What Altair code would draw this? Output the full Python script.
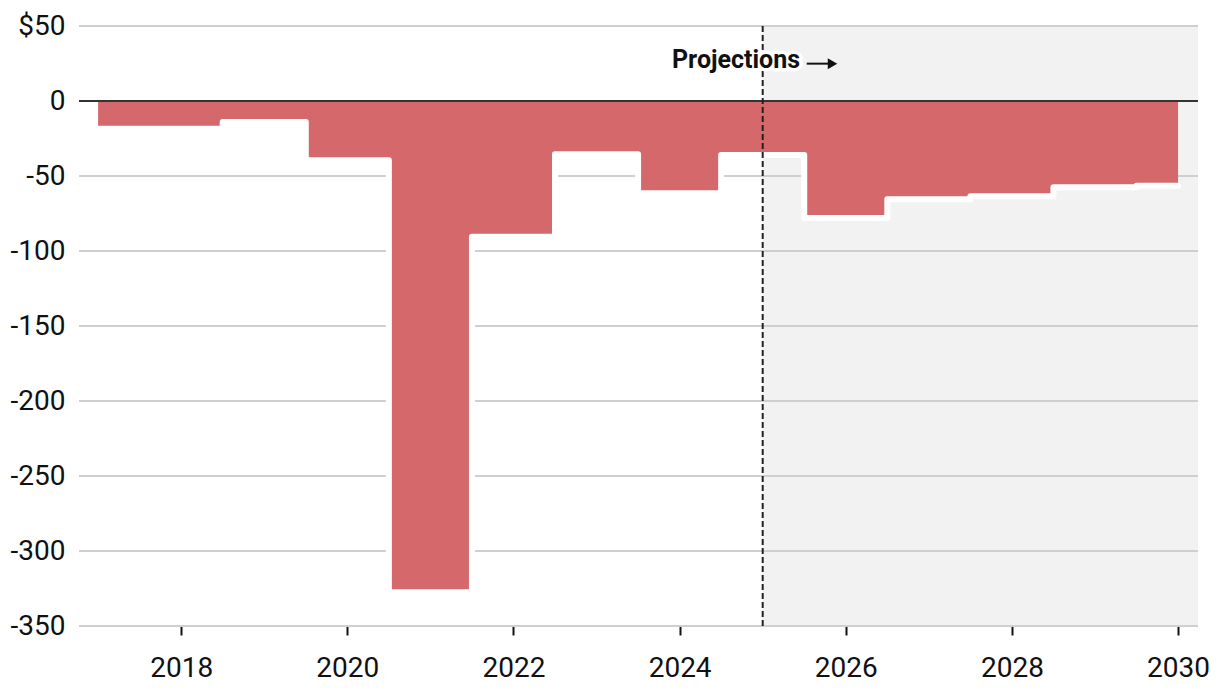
import altair as alt
import pandas as pd

# ---- data ----
years = [2017, 2018, 2019, 2020, 2021, 2022, 2023, 2024, 2025, 2026, 2027, 2028, 2029, 2030]
values = [-18.5, -18.5, -14, -39.5, -327.5, -90.5, -35.5, -61.5, -36, -78, -65.5, -63.5, -57.5, -56.5]

y_ticks = [50, 0, -50, -100, -150, -200, -250, -300, -350]
x_ticks = [2018, 2020, 2022, 2024, 2026, 2028, 2030]

x_domain = [2016.77, 2030.24]
y_domain = [-350, 50]

proj_start = 2025
proj_label = "Projections"
label_x, label_y = 2025.45, 21.8
arrow_x0, arrow_x1, arrow_head_x, arrow_y = 2025.53, 2025.80, 2025.84, 24.9

W, H = 1119, 600
RED = "#d4686a"
FONT = "Roboto"

xscale = alt.Scale(domain=x_domain, nice=False, zero=False)
yscale = alt.Scale(domain=y_domain, nice=False, zero=False)

xaxis = alt.Axis(values=x_ticks, format="d", grid=False, domain=False,
                 tickColor="#111", tickWidth=2, tickSize=9, labelPadding=19,
                 labelFont=FONT, labelFontSize=28, labelColor="#111", title=None)
yaxis = alt.Axis(values=y_ticks, grid=False, domain=False, ticks=False,
                 labelPadding=14, labelFont=FONT, labelFontSize=28, labelColor="#111",
                 labelExpr="datum.value == 50 ? '$50' : '' + datum.value", title=None)


def X(field):
    return alt.X(field, type="quantitative", scale=xscale, axis=xaxis, title=None)


def Y(field):
    return alt.Y(field, type="quantitative", scale=yscale, axis=yaxis, title=None)


df = pd.DataFrame({"year": years, "value": values, "zero": [0] * len(years)})

shade_df = pd.DataFrame({"x": [proj_start], "x2": [x_domain[1]], "y": [y_domain[1]], "y2": [y_domain[0]]})
shade = alt.Chart(shade_df).mark_rect(color="#f2f2f2").encode(
    x=X("x"), x2="x2", y=Y("y"), y2="y2")

grid_df = pd.DataFrame({"y": [v for v in y_ticks if v != 0]})
grid = alt.Chart(grid_df).mark_rule(color="#cfcfcf", strokeWidth=2).encode(
    y=Y("y"), x=alt.value(0), x2=alt.value(W))

area = alt.Chart(df).mark_area(interpolate="step", color=RED, opacity=1).encode(
    x=X("year"), y=Y("value"), y2="zero")

halo_line = alt.Chart(df).mark_line(interpolate="step", color="white", strokeWidth=6,
                                    strokeJoin="round", strokeCap="round").encode(
    x=X("year"), y=Y("value"))

zero_df = pd.DataFrame({"y": [0]})
zero_line = alt.Chart(zero_df).mark_rule(color="#333333", strokeWidth=2).encode(
    y=Y("y"), x=alt.value(0), x2=alt.value(W))

dash_df = pd.DataFrame({"x": [proj_start]})
dash = alt.Chart(dash_df).mark_rule(color="#222222", strokeWidth=2, strokeDash=[6, 3]).encode(
    x=X("x"), y=alt.value(0), y2=alt.value(H))

lab_df = pd.DataFrame({"x": [label_x], "y": [label_y], "t": [proj_label]})
lab_halo = alt.Chart(lab_df).mark_text(font=FONT, fontSize=25, fontWeight="bold", align="right",
                                       baseline="alphabetic", stroke="white", strokeWidth=7,
                                       strokeJoin="round", color="white").encode(
    x=X("x"), y=Y("y"), text="t")
lab = alt.Chart(lab_df).mark_text(font=FONT, fontSize=25, fontWeight="bold", align="right",
                                  baseline="alphabetic", color="#111").encode(
    x=X("x"), y=Y("y"), text="t")

arrow_df = pd.DataFrame({"x": [arrow_x0], "x2": [arrow_x1], "y": [arrow_y]})
arrow = alt.Chart(arrow_df).mark_rule(color="#111", strokeWidth=2).encode(
    x=X("x"), x2="x2", y=Y("y"))
head_df = pd.DataFrame({"x": [arrow_head_x], "y": [arrow_y]})
head = alt.Chart(head_df).mark_point(shape="triangle-right", filled=True, color="#111",
                                     size=120, opacity=1).encode(
    x=X("x"), y=Y("y"))

chart = alt.layer(shade, grid, area, halo_line, zero_line, dash, lab_halo, lab, arrow, head).properties(
    width=W, height=H,
    autosize=alt.AutoSizeParams(type="none"),
    padding={"left": 71, "top": 18, "right": 14, "bottom": 60},
).configure_view(stroke=None)

chart.save("out.html", embed_options={"renderer": "svg", "actions": False})
